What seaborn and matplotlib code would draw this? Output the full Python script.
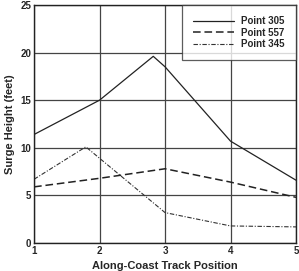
import numpy as np
import pandas as pd
import matplotlib
matplotlib.use('Agg')
import matplotlib.pyplot as plt
import seaborn as sns

# values
x_305 = [1, 2, 2.82, 3, 4, 5]
y_305 = [11.4, 15.0, 19.6, 18.5, 10.7, 6.6]
x_557 = [1, 2, 3, 4, 5]
y_557 = [5.9, 6.8, 7.8, 6.4, 4.8]
x_345 = [1, 1.79, 3, 4, 5]
y_345 = [6.7, 10.1, 3.2, 1.8, 1.7]

labels = ['Point 305', 'Point 557', 'Point 345']

sns.set_style('white')
plt.rcParams['font.family'] = ['Liberation Sans', 'DejaVu Sans']

fig = plt.figure(figsize=(2.99, 2.71), dpi=100)
ax = fig.add_axes([0.114, 0.103, 0.876, 0.879])

sns.lineplot(x=x_305, y=y_305, ax=ax, color='#222222', lw=0.9, label=labels[0], sort=False)
sns.lineplot(x=x_557, y=y_557, ax=ax, color='#222222', lw=1.1, linestyle=(0, (5, 2.5)), label=labels[1])
sns.lineplot(x=x_345, y=y_345, ax=ax, color='#333333', lw=0.8, linestyle=(0, (4, 1.5, 1, 1.5)), label=labels[2])

ax.set_xlim(1, 5)
ax.set_ylim(0, 25)
ax.set_xticks([1, 2, 3, 4, 5])
ax.set_yticks([0, 5, 10, 15, 20, 25])
ax.set_xticks(np.arange(1, 5.01, 0.2), minor=True)
ax.set_yticks(np.arange(0, 25.01, 1), minor=True)
ax.grid(True, which='major', color='#444444', lw=0.9)
ax.tick_params(which='both', direction='in', color='#222222')
ax.tick_params(which='major', length=4, width=0.9, labelsize=7, pad=2)
ax.tick_params(which='minor', length=2, width=0.7)
for lab in ax.get_xticklabels() + ax.get_yticklabels():
    lab.set_fontweight('bold')
for s in ax.spines.values():
    s.set_color('#222222')
    s.set_linewidth(1.0)

ax.set_xlabel('Along-Coast Track Position', fontsize=8, fontweight='bold', labelpad=4)
ax.set_ylabel('Surge Height (feet)', fontsize=8, fontweight='bold', labelpad=4)

leg = ax.legend(loc='upper right', fontsize=7, frameon=True, fancybox=False,
                handlelength=4.2, borderpad=1.15, labelspacing=0.15, borderaxespad=0.0)
leg.get_frame().set_edgecolor('#333333')
leg.get_frame().set_linewidth(0.9)
for t in leg.get_texts():
    t.set_fontweight('bold')

fig.savefig('out.png', dpi=100)
